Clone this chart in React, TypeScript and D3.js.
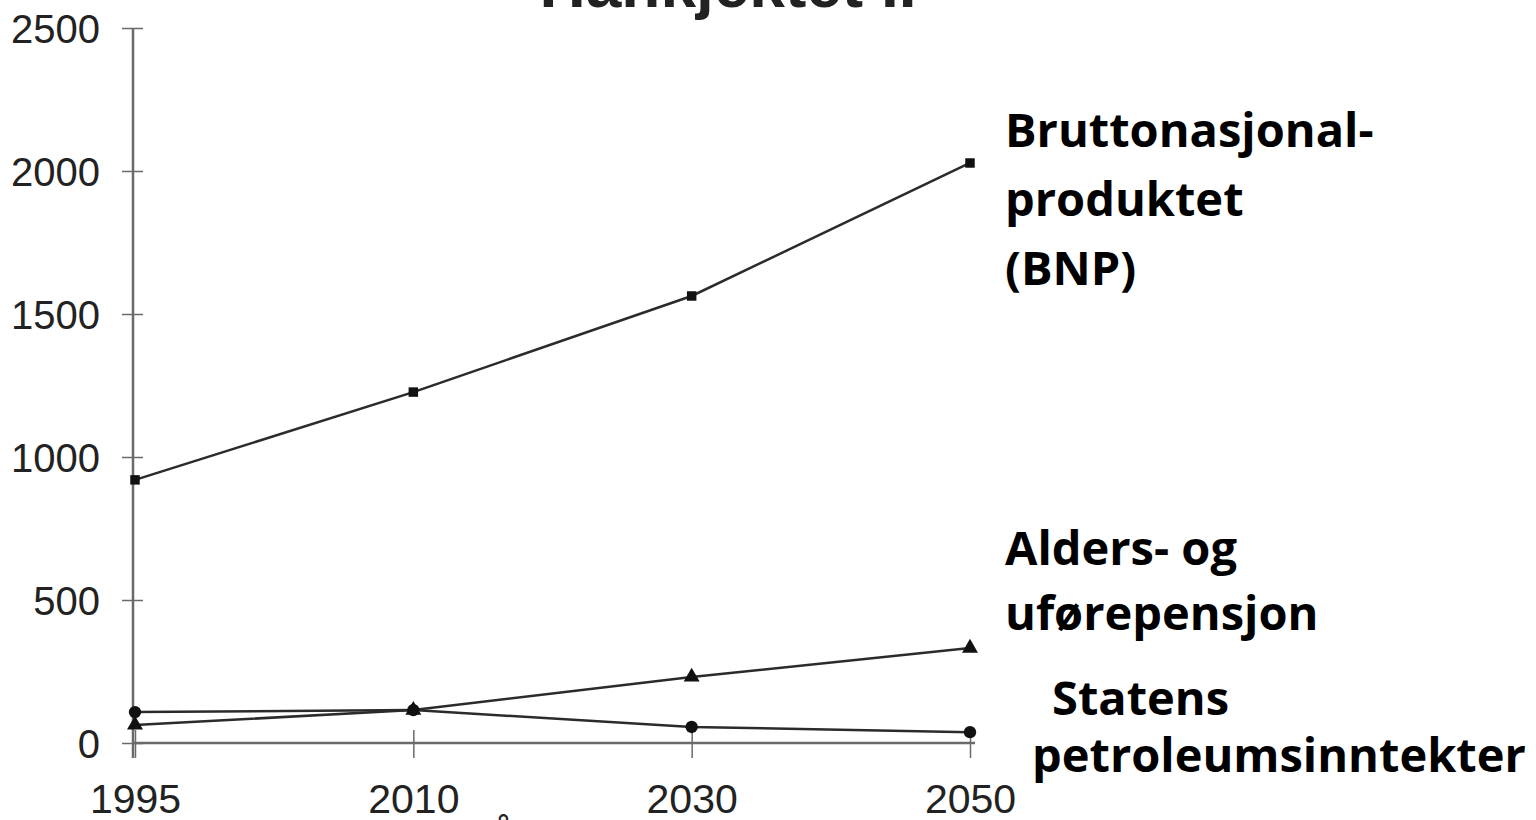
import React, { useEffect, useRef } from "react";
import * as d3 from "d3";

// years on the x axis
const years = ["1995", "2010", "2030", "2050"];
// values (y axis units)
const bnp = [920, 1227, 1563, 2028];
const pensjon = [63, 115, 231, 332];
const petroleum = [108, 115, 56, 38];
const yTicks = [0, 500, 1000, 1500, 2000, 2500];

const labelBnp = ["Bruttonasjonal-", "produktet", "(BNP)"];
const labelPensjon = ["Alders- og", "uførepensjon"];
const labelPetro = ["Statens", "petroleumsinntekter"];

export default function App({
  width = 1536,
  height = 820,
  marginTop = 28,
  marginLeft = 133,
}) {
  const svgRef = useRef(null);

  useEffect(() => {
    const svg = d3.select(svgRef.current);
    svg.selectAll("*").remove();

    const x = d3.scalePoint().domain(years).range([135, 970]);
    const y = d3.scaleLinear().domain([0, 2500]).range([743, marginTop]);

    const axisColor = "#6a6a6a";
    const lineColor = "#2b2b2b";
    const tickFont = "'Liberation Sans', Arial, sans-serif";

    // title, mostly cut off at the top edge (as in the scan)
    svg
      .append("text")
      .attr("x", 728)
      .attr("y", 7)
      .attr("text-anchor", "middle")
      .attr("font-family", tickFont)
      .attr("font-weight", "bold")
      .attr("font-size", 64)
      .attr("fill", "#222")
      .text("Hankjektet II");

    // y axis
    const yAxis = d3
      .axisLeft(y)
      .tickValues(yTicks)
      .tickFormat(d3.format("d"))
      .tickSizeInner(11)
      .tickSizeOuter(0)
      .tickPadding(22);
    const gy = svg.append("g").attr("transform", `translate(${marginLeft},0)`).call(yAxis);
    gy.select(".domain").remove();
    gy.selectAll(".tick line").attr("x1", -11).attr("x2", 10).attr("stroke", axisColor).attr("stroke-width", 1.5);
    gy.selectAll(".tick text")
      .attr("font-family", tickFont)
      .attr("font-size", 40)
      .attr("fill", "#222")
      .attr("dy", "0.36em");
    svg
      .append("line")
      .attr("x1", marginLeft)
      .attr("x2", marginLeft)
      .attr("y1", y(2500))
      .attr("y2", y(0) + 15)
      .attr("stroke", axisColor)
      .attr("stroke-width", 2.5);

    // x axis
    const xAxis = d3.axisBottom(x).tickSizeInner(15).tickSizeOuter(0);
    const gx = svg.append("g").attr("transform", `translate(0,${y(0)})`).call(xAxis);
    gx.select(".domain").remove();
    gx.selectAll(".tick line").attr("y1", -13).attr("y2", 15).attr("stroke", axisColor).attr("stroke-width", 1.5);
    gx.selectAll(".tick text")
      .attr("font-family", tickFont)
      .attr("font-size", 41)
      .attr("fill", "#222")
      .attr("y", 70)
      .attr("dy", 0);
    svg
      .append("line")
      .attr("x1", marginLeft)
      .attr("x2", 975)
      .attr("y1", y(0))
      .attr("y2", y(0))
      .attr("stroke", axisColor)
      .attr("stroke-width", 2.5);

    // "År" axis title, cut off at the bottom
    svg
      .append("text")
      .attr("x", 490)
      .attr("y", 850)
      .attr("font-family", tickFont)
      .attr("font-size", 40)
      .attr("fill", "#222")
      .text("År");

    const line = d3
      .line()
      .x((d, i) => x(years[i]))
      .y((d) => y(d));

    const series = [
      { values: bnp, symbol: d3.symbolSquare, size: 90 },
      { values: pensjon, symbol: d3.symbolTriangle, size: 110 },
      { values: petroleum, symbol: d3.symbolCircle, size: 120 },
    ];

    series.forEach((s) => {
      svg
        .append("path")
        .datum(s.values)
        .attr("fill", "none")
        .attr("stroke", lineColor)
        .attr("stroke-width", 2.5)
        .attr("d", line);

      svg
        .append("g")
        .selectAll("path")
        .data(s.values)
        .join("path")
        .attr("transform", (d, i) => `translate(${x(years[i])},${y(d)})`)
        .attr("d", d3.symbol(s.symbol, s.size))
        .attr("fill", "#111");
    });

    // labels to the right of the lines
    const labelFont = "'Open Sans', Lato, sans-serif";
    const addLabel = (lines, x0, y0, step) => {
      lines.forEach((t, i) => {
        svg
          .append("text")
          .attr("x", x0)
          .attr("y", y0 + i * step)
          .attr("font-family", labelFont)
          .attr("font-weight", "bold")
          .attr("font-size", 47)
          .attr("fill", "#000")
          .text(t);
      });
    };
    addLabel(labelBnp, 1005, 147, 69);
    addLabel(labelPensjon, 1005, 565, 65);
    addLabel([labelPetro[0]], 1052, 715, 0);
    addLabel([labelPetro[1]], 1032, 772, 0);
  }, [width, height, marginTop, marginLeft]);

  return (
    <svg
      ref={svgRef}
      width={width}
      height={height}
      style={{ position: "absolute", left: 0, top: 0, background: "#fff" }}
    />
  );
}
